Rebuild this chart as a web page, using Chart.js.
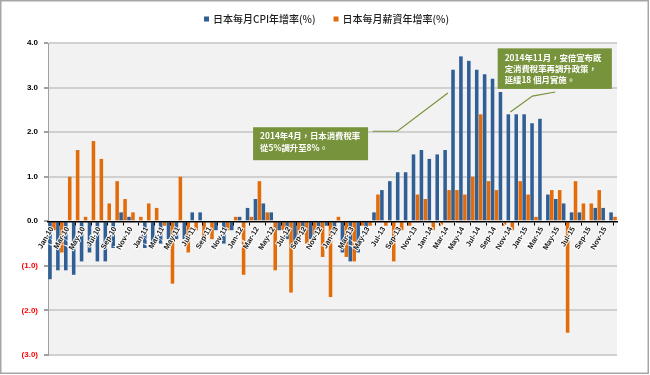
<!DOCTYPE html>
<html lang="zh-Hant">
<head>
<meta charset="UTF-8">
<title>日本CPI與薪資年增率</title>
<script src="https://cdn.jsdelivr.net/npm/chart.js"></script>
<style>
  html, body { margin: 0; padding: 0; background: #fff; }
  #wrap { width: 650px; height: 375px; }
</style>
</head>
<body>
<div id="wrap"><canvas id="chart" width="650" height="375"></canvas></div>
<script>
// 月份標籤
const monthNames = ['Jan', 'Feb', 'Mar', 'Apr', 'May', 'Jun', 'Jul', 'Aug', 'Sep', 'Oct', 'Nov', 'Dec'];
const years = ['10', '11', '12', '13', '14', '15'];
const labels = years.flatMap(y => monthNames.map(m => m + '-' + y));

// 日本每月CPI年增率(%)
const cpi = [
  -1.3, -1.1, -1.1, -1.2, -0.9, -0.7, -0.9, -0.9, -0.6, 0.2, 0.1, 0.0,
  -0.6, -0.5, -0.5, -0.4, -0.4, -0.4, 0.2, 0.2, 0.0, -0.2, -0.5, -0.2,
  0.1, 0.3, 0.5, 0.4, 0.2, -0.2, -0.4, -0.5, -0.3, -0.4, -0.2, -0.1,
  -0.3, -0.7, -0.9, -0.7, -0.3, 0.2, 0.7, 0.9, 1.1, 1.1, 1.5, 1.6,
  1.4, 1.5, 1.6, 3.4, 3.7, 3.6, 3.4, 3.3, 3.2, 2.9, 2.4, 2.4,
  2.4, 2.2, 2.3, 0.6, 0.5, 0.4, 0.2, 0.2, 0.0, 0.3, 0.3, 0.2
];

// 日本每月薪資年增率(%)
const wages = [
  -0.2, -0.7, 1.0, 1.6, 0.1, 1.8, 1.4, 0.4, 0.9, 0.5, 0.2, 0.1,
  0.4, 0.3, -0.1, -1.4, 1.0, -0.7, -0.2, -0.4, -0.4, 0.0, -0.2, 0.1,
  -1.2, 0.1, 0.9, 0.2, -1.1, -0.2, -1.6, -0.3, -0.5, -0.3, -0.8, -1.7,
  0.1, -0.8, -0.9, -0.1, -0.1, 0.6, -0.1, -0.9, -0.2, -0.1, 0.6, 0.5,
  -0.2, -0.1, 0.7, 0.7, 0.6, 1.0, 2.4, 0.9, 0.7, -0.1, -0.2, 0.9,
  0.6, 0.1, 0.0, 0.7, 0.7, -2.5, 0.9, 0.4, 0.4, 0.7, 0.0, 0.1
];

const blue = '#305f96';
const orange = '#e36c0a';
const green = '#77933c';

// 註解框 (x 以月份索引, y 以數值表示)
const notes = [
  {
    lines: ['2014年4月，日本消費稅率', '從5%調升至8%。'],
    box: { x0: 25.45, x1: 40.0, y0: 2.11, y1: 1.37 },
    path: [[40.6, 2.02], [43.7, 2.02], [50.1, 2.88]]
  },
  {
    lines: ['2014年11月，安倍宣布既', '定消費稅率再調升政策，', '延緩18 個月實施。'],
    box: { x0: 56.4, x1: 70.85, y0: 3.88, y1: 2.97 },
    path: [[63.7, 2.90], [60.8, 2.81], [58.0, 2.45]]
  }
];

const decor = {
  id: 'decor',
  beforeDraw(chart) {
    const { ctx, chartArea: a } = chart;
    ctx.save();
    ctx.fillStyle = '#fff';
    ctx.fillRect(0, 0, chart.width, chart.height);
    ctx.fillStyle = '#f2f2f2';
    ctx.fillRect(a.left, a.top, a.right - a.left, a.bottom - a.top);
    ctx.restore();
  },
  afterDraw(chart) {
    const { ctx } = chart;
    const xs = chart.scales.x, ys = chart.scales.y;
    ctx.save();

    // 註解
    notes.forEach(n => {
      ctx.strokeStyle = green;
      ctx.lineWidth = 1.2;
      ctx.beginPath();
      n.path.forEach((p, i) => {
        const px = xs.getPixelForValue(p[0]), py = ys.getPixelForValue(p[1]);
        if (i === 0) ctx.moveTo(px, py); else ctx.lineTo(px, py);
      });
      ctx.stroke();
      const bx = xs.getPixelForValue(n.box.x0), bx1 = xs.getPixelForValue(n.box.x1);
      const by = ys.getPixelForValue(n.box.y0), by1 = ys.getPixelForValue(n.box.y1);
      ctx.fillStyle = green;
      ctx.fillRect(bx, by, bx1 - bx, by1 - by);
      ctx.fillStyle = '#fff';
      ctx.font = 'bold 8.4px "Noto Sans CJK TC", sans-serif';
      ctx.textBaseline = 'middle';
      ctx.textAlign = 'left';
      n.lines.forEach((t, i) => ctx.fillText(t, bx + 7, by + 9 + i * 11.3));
    });

    // 圖例
    ctx.font = '500 10px "Noto Sans CJK TC", sans-serif';
    ctx.textBaseline = 'middle';
    const items = chart.data.datasets.map(d => ({ text: d.label, color: d.backgroundColor }));
    let x = 204;
    items.forEach(it => {
      ctx.fillStyle = it.color;
      ctx.fillRect(x, 16.5, 5, 5);
      ctx.fillStyle = '#1f1f1f';
      ctx.fillText(it.text, x + 9, 19);
      x += 9 + ctx.measureText(it.text).width + 18;
    });

    // 外框
    ctx.strokeStyle = '#a6a6a6';
    ctx.lineWidth = 1.5;
    ctx.strokeRect(0.75, 0.75, 647.5, 372.5);
    ctx.restore();
  }
};

new Chart(document.getElementById('chart'), {
  type: 'bar',
  data: {
    labels: labels,
    datasets: [
      { label: '日本每月CPI年增率(%)', data: cpi, backgroundColor: blue },
      { label: '日本每月薪資年增率(%)', data: wages, backgroundColor: orange }
    ]
  },
  options: {
    responsive: false,
    animation: false,
    devicePixelRatio: 1,
    layout: { padding: { top: 43, right: 33, bottom: 20, left: 0 } },
    datasets: { bar: { categoryPercentage: 1.0, barPercentage: 0.9 } },
    plugins: { legend: { display: false }, tooltip: { enabled: false } },
    scales: {
      x: {
        position: { y: 0 },
        offset: true,
        grid: { display: true, drawOnChartArea: false, drawTicks: true, tickLength: 3, color: '#000', offset: true, z: 1 },
        border: { display: true, color: '#000', width: 1.5, z: 1 },
        ticks: {
          z: 2,
          autoSkip: false,
          minRotation: 60,
          maxRotation: 60,
          padding: 1,
          color: '#1a1a1a',
          textStrokeColor: 'rgba(255,255,255,0.9)',
          textStrokeWidth: 2,
          font: { family: '"Liberation Sans", Arial, sans-serif', size: 7.5, weight: 'bold' },
          callback(v, i) { return i % 2 === 0 ? this.getLabelForValue(v) : null; }
        }
      },
      y: {
        min: -3,
        max: 4,
        afterFit(s) { s.width = 48; },
        border: { color: '#a0a0a0', width: 1 },
        grid: {
          color: c => c.tick.value === 0 ? 'rgba(0,0,0,0)' : '#d0d0d0',
          tickColor: '#a0a0a0',
          lineWidth: 2,
          tickLength: 4
        },
        ticks: {
          stepSize: 1,
          padding: 6,
          color: c => c.tick.value < 0 ? '#ff0000' : '#000',
          font: { family: '"Liberation Sans", Arial, sans-serif', size: 8, weight: 'bold' },
          callback: v => v < 0 ? '(' + Math.abs(v).toFixed(1) + ')' : v.toFixed(1)
        }
      }
    }
  },
  plugins: [decor]
});
</script>
</body>
</html>
